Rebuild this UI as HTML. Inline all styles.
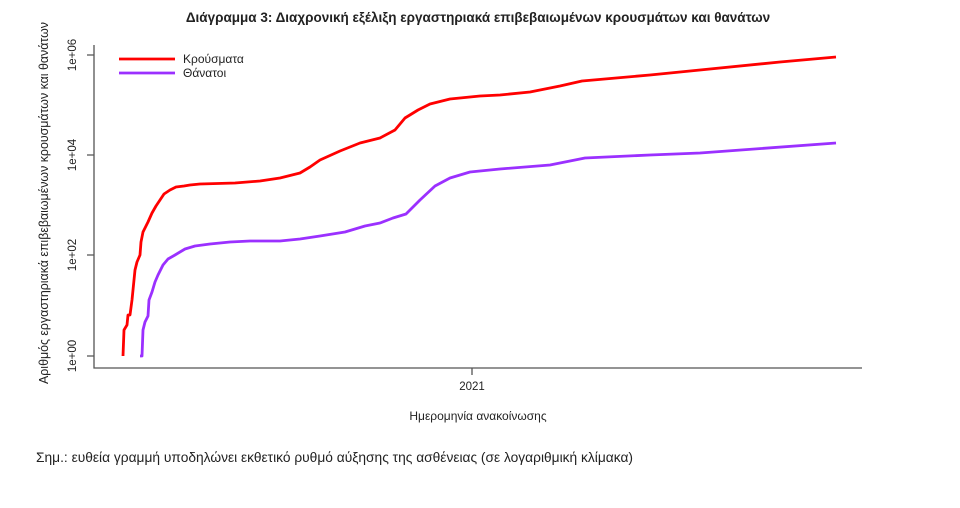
<!DOCTYPE html>
<html><head><meta charset="utf-8"><style>
html,body{margin:0;padding:0;background:#fff;}
svg{display:block;}
text{font-family:"Liberation Sans","DejaVu Sans",sans-serif;fill:#222;}
</style></head><body>
<svg width="960" height="508" viewBox="0 0 960 508" xmlns="http://www.w3.org/2000/svg">
<text x="478" y="22" text-anchor="middle" font-size="13.5" font-weight="bold">Διάγραμμα 3: Διαχρονική εξέλιξη εργαστηριακά επιβεβαιωμένων κρουσμάτων και θανάτων</text>
<g stroke="#555" stroke-width="1.3" fill="none">
<path d="M94 45 V368 H862"/>
<path d="M94 55 H87 M94 155 H87 M94 255 H87 M94 356 H87 M472 368 V375"/>
</g>
<g font-size="11.5">
<text transform="translate(76,55) rotate(-90)" text-anchor="middle">1e+06</text>
<text transform="translate(76,155) rotate(-90)" text-anchor="middle">1e+04</text>
<text transform="translate(76,255) rotate(-90)" text-anchor="middle">1e+02</text>
<text transform="translate(76,356) rotate(-90)" text-anchor="middle">1e+00</text>
<text x="472" y="390" text-anchor="middle">2021</text>
<text x="478" y="420" text-anchor="middle" font-size="12">Ημερομηνία ανακοίνωσης</text>
<text transform="translate(48,203) rotate(-90)" text-anchor="middle" font-size="12.5" textLength="362" lengthAdjust="spacingAndGlyphs">Αριθμός εργαστηριακά επιβεβαιωμένων κρουσμάτων και θανάτων</text>
<text x="183" y="63" font-size="12">Κρούσματα</text>
<text x="183" y="77" font-size="12">Θάνατοι</text>
<text x="36" y="462" font-size="13.5" textLength="597" lengthAdjust="spacingAndGlyphs">Σημ.: ευθεία γραμμή υποδηλώνει εκθετικό ρυθμό αύξησης της ασθένειας (σε λογαριθμική κλίμακα)</text>
</g>
<g fill="none" stroke-width="2.8" stroke-linejoin="round">
<path d="M119 59 H175" stroke="#f00"/>
<path d="M119 73 H175" stroke="#9b30ff"/>
<path stroke="#f00" d="M123 356 L124 330 L127 325 L128 315 L130 315 L132 300 L133 290 L135 270 L137 262 L140 255 L141 242 L143 232 L146 226 L148 222 L152 213 L156 206 L160 200 L164 194 L170 190 L176 187 L184 186 L190 185 L200 184 L235 183 L260 181 L280 178 L300 173 L310 167 L320 160 L340 151 L360 143 L380 138 L395 130 L405 118 L418 110 L430 104 L450 99 L480 96 L500 95 L530 92 L560 86 L582 81 L650 75 L700 70 L780 62 L836 57"/>
<path stroke="#9b30ff" d="M140 356 L142 356 L143 330 L145 322 L148 316 L149 300 L152 292 L155 282 L158 275 L163 265 L168 259 L175 255 L185 249 L195 246 L210 244 L230 242 L250 241 L280 241 L300 239 L320 236 L345 232 L365 226 L380 223 L393 218 L406 214 L420 200 L435 186 L450 178 L470 172 L500 169 L550 165 L585 158 L650 155 L700 153 L836 143"/>
</g>
</svg>
</body></html>
